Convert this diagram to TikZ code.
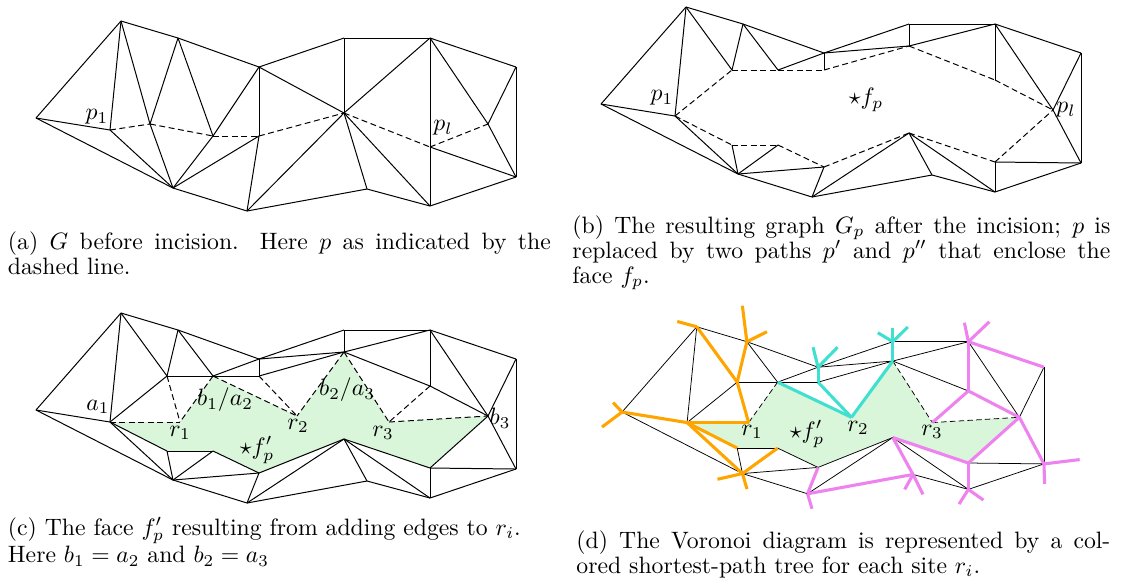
\documentclass[tikz,border=0pt]{standalone}
\usepackage{amsmath,amssymb}
\usepackage{tikz,xcolor}
\usetikzlibrary{calc}

\definecolor{facegreen}{RGB}{218,246,218}
\definecolor{treeorange}{RGB}{255,165,0}
\definecolor{treeturq}{RGB}{64,224,208}
\definecolor{treeviolet}{RGB}{238,130,238}

% vertices, in pixels of panel (a)
\def\outerpts{A/36/118, B/121/21, C/178/38, D/259/67, E/344/38, F/430/38, G/516/67,
  H/516/177, I/430/206, J/367/189, K/247/211, L/173/188, p/110/130, R/488/124}
\def\pathpts{M/150/124, N/213/136, O/259/136, P/344/113, Q/430/147}
\def\splitpts{Mu/167/84, Nu/213/84, Ou/259/84, Pu/344/60, Qu/430/94,
  Ml/167/159, Nl/213/159, Ol/259/181, Pl/344/147, Ql/430/176}
\def\sitepts{r1/180/130, r2/297/124, r3/389/130}

% edge lists
\def\outeredges{A/B, B/C, C/D, D/E, E/F, F/G, G/H, H/I, I/J, J/K, K/L, L/A,
  A/p, B/p, F/R, G/R, R/H}
\def\pathedges{B/M, C/M, C/N, D/N, D/O, D/P, E/P, F/P, F/Q, Q/I, Q/H,
  p/L, M/L, N/L, O/L, O/K, P/K, P/J, P/I}
\def\incision{p/M, M/N, N/O, O/P, P/Q, Q/R}
\def\splitedges{B/Mu, C/Mu, C/Nu, D/Nu, D/Ou, D/Pu, E/Pu, F/Pu, F/Qu, Ql/H, Ql/I,
  p/L, Ml/L, Nl/L, Ol/L, Ol/K, Pl/K, Pl/J, Pl/I}
\def\twopaths{p/Mu, Mu/Nu, Nu/Ou, Ou/Pu, Pu/Qu, Qu/R,
  p/Ml, Ml/Nl, Nl/Ol, Ol/Pl, Pl/Ql, Ql/R}
\def\siteedges{p/r1, Mu/r1, Nu/r1, Nu/r2, Ou/r2, Pu/r2, Pu/r3, Qu/r3, r3/R}

\tikzset{
  % solid edges of the triangulation
  tri/.style={black, line width=0.42pt},
  % dashed edges
  incis/.style={black, line width=0.42pt, dash pattern=on 2.5pt off 1.5pt},
  % thinner edges of panel (d)
  thintri/.style={black, line width=0.32pt},
  % one shortest-path tree
  sptree/.style={#1, line width=1.3pt, line join=round},
  % sub-captions
  capt/.style={anchor=base west, inner sep=0pt, align=justify,
    font=\fontsize{10}{10.55}\selectfont},
}

\begin{document}
\begin{tikzpicture}[x=0.422pt, y=-0.422pt]
\useasboundingbox (0,0) rectangle (1123,583);

% ---------- (a) G before incision
\foreach \n/\x/\y in \outerpts {\coordinate (a\n) at (\x,\y);}
\foreach \n/\x/\y in \pathpts {\coordinate (a\n) at (\x,\y);}
\foreach \u/\v in \outeredges {\draw[tri] (a\u) -- (a\v);}
\foreach \u/\v in \pathedges {\draw[tri] (a\u) -- (a\v);}
\foreach \u/\v in \incision {\draw[incis] (a\u) -- (a\v);}
\node (lap1) at (97,117) {$p_1$};
\node (lapl) at (443,128) {$p_l$};

% ---------- (b) G_p after the incision
\begin{scope}[shift={(565,-14)}]
  \foreach \n/\x/\y in \outerpts {\coordinate (b\n) at (\x,\y);}
  \foreach \n/\x/\y in \splitpts {\coordinate (b\n) at (\x,\y);}
  \foreach \u/\v in \outeredges {\draw[tri] (b\u) -- (b\v);}
  \foreach \u/\v in \splitedges {\draw[tri] (b\u) -- (b\v);}
  \foreach \u/\v in \twopaths {\draw[incis] (b\u) -- (b\v);}
\end{scope}
\node (lbp1) at (662,98) {$p_1$};
\node (lbpl) at (1066,110) {$p_l$};
\node (lbfp) at (866,100) {$\star f_p$};

% ---------- (c) the face f'_p
\begin{scope}[shift={(0,292)}]
  \foreach \n/\x/\y in \outerpts {\coordinate (c\n) at (\x,\y);}
  \foreach \n/\x/\y in \splitpts {\coordinate (c\n) at (\x,\y);}
  \foreach \n/\x/\y in \sitepts {\coordinate (c\n) at (\x,\y);}
  \fill[facegreen] (cp) -- (cr1) -- (cNu) -- (cr2) -- (cPu) -- (cr3) -- (cR)
    -- (cQl) -- (cPl) -- (cOl) -- (cNl) -- (cMl) -- cycle;
  \foreach \u/\v in \outeredges {\draw[tri] (c\u) -- (c\v);}
  \foreach \u/\v in \splitedges {\draw[tri] (c\u) -- (c\v);}
  \foreach \u/\v in \twopaths {\draw[tri] (c\u) -- (c\v);}
  \foreach \u/\v in \siteedges {\draw[incis] (c\u) -- (c\v);}
\end{scope}
\node (lca1) at (98,407) {$a_1$};
\node (lcb3) at (500,418) {$b_3$};
\node (lcr1) at (180,433) {$r_1$};
\node (lcr2) at (298,426) {$r_2$};
\node (lcr3) at (383,433) {$r_3$};
\node (lcb1) at (225,400) {$b_1/a_2$};
\node (lcb2) at (347,390) {$b_2/a_3$};
\node (lcfp) at (257,450) {$\star f'_p$};

% ---------- (d) Voronoi diagram as shortest-path trees
\begin{scope}[shift={(590.4,308.3)}, scale=0.879]
  \foreach \n/\x/\y in \outerpts {\coordinate (d\n) at (\x,\y);}
  \foreach \n/\x/\y in \splitpts {\coordinate (d\n) at (\x,\y);}
  \foreach \n/\x/\y in \sitepts {\coordinate (d\n) at (\x,\y);}
  \fill[facegreen] (dp) -- (dr1) -- (dNu) -- (dr2) -- (dPu) -- (dr3) -- (dR)
    -- (dQl) -- (dPl) -- (dOl) -- (dNl) -- (dMl) -- cycle;
  \foreach \u/\v in \outeredges {\draw[thintri] (d\u) -- (d\v);}
  \foreach \u/\v in \splitedges {\draw[thintri] (d\u) -- (d\v);}
  \foreach \u/\v in \twopaths {\draw[thintri] (d\u) -- (d\v);}
  \foreach \u/\v in {Nu/r1, Pu/r3, r3/R} {\draw[thintri, dash pattern=on 2.3pt off 1.4pt] (d\u) -- (d\v);}
\end{scope}
% tree of r_1
\foreach \u/\v in {A/p, p/r1, r1/Mu, Mu/B, Mu/C, p/Ml, p/L, L/Nl}
  {\draw[sptree=treeorange] (d\u) -- (d\v);}
\foreach \v/\dx/\dy in {A/-9/-9.5, A/-20/15, B/-19.5/-5.3, C/-4.5/-36, C/20/-10, L/-25/5.7, L/4.5/15.5}
  {\draw[sptree=treeorange] (d\v) -- ++(\dx,\dy);}
% tree of r_2
\foreach \u/\v in {r2/Nu, r2/Ou, Ou/D, r2/Pu, Pu/E}
  {\draw[sptree=treeturq] (d\u) -- (d\v);}
\foreach \v/\dx/\dy in {D/-5/-20, D/19.5/-20, E/-15/-9, E/15/-14.7, E/0/-14}
  {\draw[sptree=treeturq] (d\v) -- ++(\dx,\dy);}
% tree of r_3
\foreach \u/\v in {r3/Qu, Qu/F, F/G, Qu/R, R/Ql, R/H, Ql/Pl, Ql/I, Pl/J, J/K, K/Ol}
  {\draw[sptree=treeviolet] (d\u) -- (d\v);}
\foreach \v/\dx/\dy in {F/-4/-19, F/21/-20, H/35.7/-4.3, H/0.7/20, I/-9.3/14.7, I/15/10.7,
  J/-8.3/15, J/10/20, K/4.5/15}
  {\draw[sptree=treeviolet] (d\v) -- ++(\dx,\dy);}
\node (ldr1) at (752,432) {$r_1$};
\node (ldr2) at (858,428) {$r_2$};
\node (ldr3) at (932,432) {$r_3$};
\node (ldfp) at (807,434) {$\star f'_p$};

% ---------- captions
\node[capt, text width=229.1pt] (capa) at (7.5,249)
  {(a) $G$ before incision. Here $p$ as indicated by the\linebreak dashed line.};
\node[capt, text width=227pt] (capb) at (572,233)
  {(b) The resulting graph $G_p$ after the incision; $p$ is\linebreak replaced by two
   paths $p'$ and $p''$ that enclose the\linebreak face $f_p$.};
\node[capt, align=left, text width=235pt] (capc) at (7.5,535)
  {(c) The face $f'_p$ resulting from adding edges to $r_i$.\\ Here $b_1=a_2$ and $b_2=a_3$};
\node[capt, text width=225.3pt] (capd) at (576,548)
  {(d) The Voronoi diagram is represented by a col-\linebreak ored shortest-path tree
   for each site $r_i$.};
\end{tikzpicture}
\end{document}
